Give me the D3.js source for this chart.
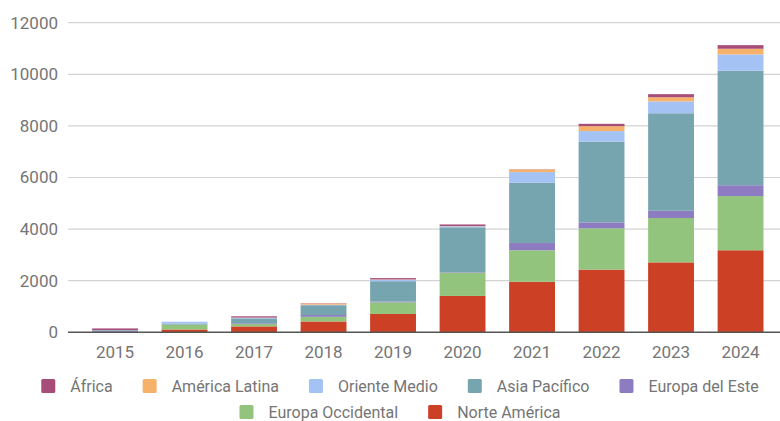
<!DOCTYPE html>
<html>
<head>
<meta charset="utf-8">
<script src="https://cdn.jsdelivr.net/npm/d3@7"></script>
<style>
  html, body { margin: 0; padding: 0; background: #fff; }
  svg { display: block; font-family: Roboto, "Noto Sans", sans-serif; }
</style>
</head>
<body>
<svg id="chart" width="780" height="421"></svg>
<script>
const years = ["2015","2016","2017","2018","2019","2020","2021","2022","2023","2024"];
const seriesNames = ["África","América Latina","Oriente Medio","Asia Pacífico","Europa del Este","Europa Occidental","Norte América"];
// stack order bottom -> top
const stackOrder = ["Norte América","Europa Occidental","Europa del Este","Asia Pacífico","Oriente Medio","América Latina","África"];
const norteAmerica     = [10, 110, 230, 420, 710, 1410, 1960, 2430, 2710, 3180];
const europaOccidental = [10, 180,  90, 180, 450,  900, 1220, 1600, 1720, 2100];
const europaDelEste    = [50,  10,  30,  70,  30,   20,  280,  230,  280,  420];
const asiaPacifico     = [20,  40, 190, 380, 790, 1740, 2340, 3130, 3780, 4440];
const orienteMedio     = [ 0,  70,  20,  20,  60,   40,  410,  410,  460,  630];
const americaLatina    = [ 0,   0,  10,  50,  10,   10,  100,  190,  160,  220];
const africa           = [60,   0,  50,  10,  50,   60,   10,   90,  120,  140];
const yTicks = [0, 2000, 4000, 6000, 8000, 10000, 12000];
const colors = ["#a64d79","#f6b26b","#a4c2f4","#76a5af","#8e7cc3","#93c47d","#cc4125"];

const valuesByName = {
  "Norte América": norteAmerica,
  "Europa Occidental": europaOccidental,
  "Europa del Este": europaDelEste,
  "Asia Pacífico": asiaPacifico,
  "Oriente Medio": orienteMedio,
  "América Latina": americaLatina,
  "África": africa
};
const colorOf = d3.scaleOrdinal().domain(seriesNames).range(colors);

const table = years.map((y, i) => {
  const row = { year: y };
  seriesNames.forEach(n => row[n] = valuesByName[n][i]);
  return row;
});

const svg = d3.select("#chart");
const x = d3.scaleBand().domain(years).range([80.3, 775.3]).paddingInner(0.34).paddingOuter(0.17);
const y = d3.scaleLinear().domain([0, 12000]).range([332.3, 22.7]);

// gridlines
svg.append("g").selectAll("line").data(yTicks.filter(t => t > 0)).join("line")
  .attr("x1", 68).attr("x2", 780)
  .attr("y1", d => y(d)).attr("y2", d => y(d))
  .attr("stroke", "#d3d3d3").attr("stroke-width", 1.2);

// y labels
svg.append("g").selectAll("text").data(yTicks).join("text")
  .attr("x", 58).attr("y", d => y(d)).attr("dy", "0.35em")
  .attr("text-anchor", "end").attr("font-size", 17).attr("fill", "#757575")
  .text(d => d);

// bars
const stack = d3.stack().keys(stackOrder);
const layers = stack(table);
svg.append("g").selectAll("g").data(layers).join("g")
  .attr("fill", d => colorOf(d.key))
  .selectAll("rect").data(d => d).join("rect")
  .attr("x", d => x(d.data.year))
  .attr("width", x.bandwidth())
  .attr("y", d => y(d[1]))
  .attr("height", d => Math.max(0, y(d[0]) - y(d[1])));

// baseline
svg.append("line").attr("x1", 68).attr("x2", 780).attr("y1", y(0)).attr("y2", y(0))
  .attr("stroke", "#555").attr("stroke-width", 1.5);

// x labels
svg.append("g").selectAll("text").data(years).join("text")
  .attr("x", d => x(d) + x.bandwidth() / 2).attr("y", 358)
  .attr("text-anchor", "middle").attr("font-size", 17).attr("fill", "#757575")
  .text(d => d);

// legend
const rows = [seriesNames.slice(0, 5), seriesNames.slice(5)];
const rowY = [386, 412];
rows.forEach((names, ri) => {
  const g = svg.append("g");
  let cx = 0;
  names.forEach((n, i) => {
    const item = g.append("g").attr("transform", `translate(${cx},0)`);
    item.append("rect").attr("x", 0).attr("y", rowY[ri] - 7).attr("width", 14).attr("height", 14)
      .attr("rx", 1.5).attr("fill", colorOf(n));
    const t = item.append("text").attr("x", 29).attr("y", rowY[ri]).attr("dy", "0.35em")
      .attr("font-size", 16).attr("fill", "#757575").text(n);
    const w = t.node().getComputedTextLength();
    cx += 29 + w + (i < names.length - 1 ? 30 : 0);
  });
  g.attr("transform", `translate(${400 - cx / 2},0)`);
});
</script>
</body>
</html>
